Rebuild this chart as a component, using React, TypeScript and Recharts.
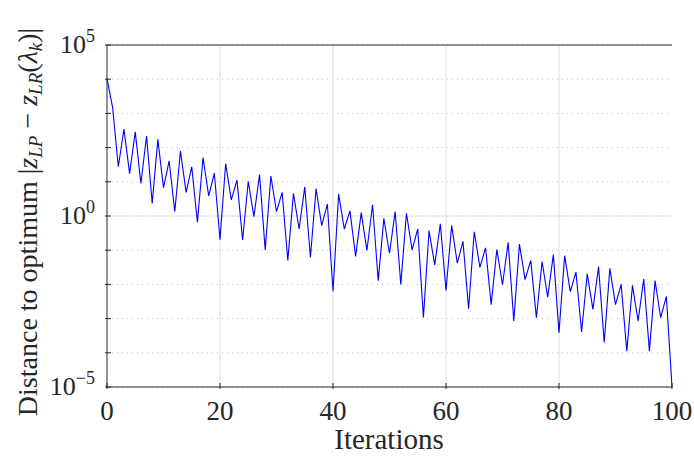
import { CartesianGrid, Line, LineChart, ReferenceLine, XAxis, YAxis } from 'recharts'

// log10 of |z_LP - z_LR(lambda_k)| per iteration
const logGap = [
  4.02, 3.17, 1.44, 2.54, 1.24, 2.46, 0.95, 2.34, 0.37, 2.24,
  0.83, 1.61, 0.13, 1.9, 0.69, 1.44, -0.18, 1.71, 0.59, 1.25,
  -0.69, 1.53, 0.47, 1.05, -0.7, 1.01, -0.02, 1.21, -0.99, 1.17,
  0.13, 0.69, -1.3, 0.66, -0.38, 0.85, -1.21, 0.8, -0.28, 0.35,
  -2.2, 0.64, -0.38, 0.15, -1.18, 0.1, -1.01, 0.33, -1.89, -0.07,
  -1.09, 0.13, -2.0, 0.08, -0.99, -0.38, -2.97, -0.43, -1.43, -0.23,
  -2.18, -0.28, -1.38, -0.74, -2.71, -0.46, -1.5, -0.93, -2.59, -0.98,
  -2.01, -0.77, -3.07, -0.82, -1.86, -1.3, -2.97, -1.33, -2.37, -1.13,
  -3.41, -1.16, -2.21, -1.64, -3.39, -1.69, -2.73, -1.48, -3.7, -1.53,
  -2.59, -2.0, -3.95, -2.03, -3.07, -1.84, -3.95, -1.89, -2.97, -2.35,
  -5.0,
]
const xTicks = [0, 20, 40, 60, 80, 100]
const decades = [-5, -4, -3, -2, -1, 0, 1, 2, 3, 4, 5]
const labelledDecades = [-5, 0, 5]

const data = logGap.map((e, i) => ({ it: i, gap: Math.pow(10, e) }))
const yTicks = decades.map((d) => Math.pow(10, d))

const AXIS = '#262626'
const FONT = '"Liberation Serif", "DejaVu Serif", serif'
const TICK = 6

const BottomTick = (props: any) => {
  const { x, y, payload } = props
  return (
    <g>
      <line x1={x} y1={y} x2={x} y2={y - TICK} stroke={AXIS} />
      <text x={x} y={y + 31} textAnchor="middle" fontFamily={FONT} fontSize={27} fill={AXIS}>
        {payload.value}
      </text>
    </g>
  )
}

const TopTick = (props: any) => {
  const { x, y } = props
  return <line x1={x} y1={y} x2={x} y2={y + TICK} stroke={AXIS} />
}

const LeftTick = (props: any) => {
  const { x, y, payload } = props
  const exp = Math.round(Math.log10(payload.value))
  return (
    <g>
      <line x1={x} y1={y} x2={x + TICK} y2={y} stroke={AXIS} />
      {labelledDecades.includes(exp) && (
        <text x={x - 10} y={y + 8} textAnchor="end" fontFamily={FONT} fontSize={26} fill={AXIS}>
          10
          <tspan fontSize={18} dy={-11}>
            {exp < 0 ? `\u2212${-exp}` : exp}
          </tspan>
        </text>
      )}
    </g>
  )
}

const RightTick = (props: any) => {
  const { x, y } = props
  return <line x1={x} y1={y} x2={x - TICK} y2={y} stroke={AXIS} />
}

const YLabel = () => (
  <text
    transform="rotate(-90)"
    x={-222}
    y={37}
    textAnchor="middle"
    fontFamily={FONT}
    fontSize={28}
    fill={AXIS}
  >
    Distance to optimum |<tspan fontStyle="italic">z</tspan>
    <tspan fontStyle="italic" fontSize={19} dy={5}>LP</tspan>
    <tspan dy={-5}> − </tspan>
    <tspan fontStyle="italic">z</tspan>
    <tspan fontStyle="italic" fontSize={19} dy={5}>LR</tspan>
    <tspan dy={-5}>(</tspan>
    <tspan fontStyle="italic">λ</tspan>
    <tspan fontStyle="italic" fontSize={19} dy={5}>k</tspan>
    <tspan dy={-5}>)|</tspan>
  </text>
)

const XLabel = () => (
  <text x={389} y={449} textAnchor="middle" fontFamily={FONT} fontSize={29} fill={AXIS}>
    Iterations
  </text>
)

export default function App() {
  return (
    <div style={{ position: 'absolute', left: 0, top: 0, background: '#fff' }}>
      <LineChart width={694} height={457} data={data} margin={{ top: 45, right: 22, bottom: 0, left: 0 }}>
        <CartesianGrid vertical={false} stroke="#c4c4c4" strokeDasharray="1 4" />
        {[20, 40, 60, 80].map((v) => (
          <ReferenceLine key={v} x={v} stroke="#e3e3e3" strokeWidth={1.2} />
        ))}
        <ReferenceLine y={1} stroke="#e3e3e3" strokeWidth={1.2} />
        <ReferenceLine y={1e5} stroke={AXIS} />
        <XAxis
          dataKey="it"
          type="number"
          domain={[0, 100]}
          ticks={xTicks}
          height={70}
          stroke={AXIS}
          tickLine={false}
          tickSize={0}
          tick={<BottomTick />}
          label={<XLabel />}
        />
        <XAxis
          xAxisId="top"
          orientation="top"
          dataKey="it"
          type="number"
          domain={[0, 100]}
          ticks={xTicks}
          height={0}
          stroke={AXIS}
          tickLine={false}
          tickSize={0}
          tick={<TopTick />}
        />
        <YAxis
          type="number"
          scale="log"
          domain={[1e-5, 1e5]}
          allowDataOverflow
          ticks={yTicks}
          interval={0}
          width={107}
          stroke={AXIS}
          tickLine={false}
          tickSize={0}
          tick={<LeftTick />}
          label={<YLabel />}
        />
        <YAxis
          yAxisId="right"
          orientation="right"
          type="number"
          scale="log"
          domain={[1e-5, 1e5]}
          allowDataOverflow
          ticks={yTicks}
          interval={0}
          width={0}
          stroke={AXIS}
          tickLine={false}
          tickSize={0}
          tick={<RightTick />}
        />
        <Line
          dataKey="gap"
          stroke="#0000ff"
          strokeWidth={1.1}
          dot={false}
          isAnimationActive={false}
        />
      </LineChart>
    </div>
  )
}
